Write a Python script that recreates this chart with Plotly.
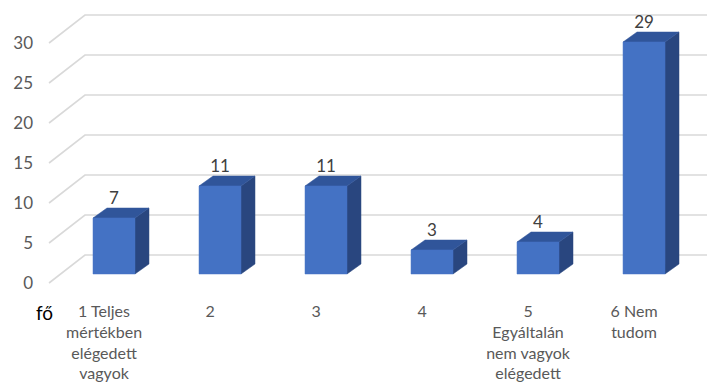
import plotly.graph_objects as go

categories = ["1 Teljes<br>mértékben<br>elégedett<br>vagyok", "2", "3", "4",
              "5<br>Egyáltalán<br>nem vagyok<br>elégedett", "6 Nem<br>tudom"]
values = [7, 11, 11, 3, 4, 29]
y_ticks = [0, 5, 10, 15, 20, 25, 30]

# pseudo-3D geometry (in axis units)
half_w = 0.198
dx, dy = 0.132, 1.25          # bar depth offset
front_off = -1.125            # front floor edge relative to bar base
back_off = 2.375              # back wall relative to bar base
wall_left_front, wall_left_back = -0.613, -0.274
x_min, x_max = -0.6981, 5.745
label_shift = -0.094

front_col = "#4472C4"
top_col = "#30559A"
side_col = "#29467F"
grid_col = "#D9D9D9"

fig = go.Figure()

# gridlines: back wall + left diagonal
for t in y_ticks:
    fig.add_trace(go.Scatter(
        x=[wall_left_front, wall_left_back, x_max + 1],
        y=[t + front_off, t + back_off, t + back_off],
        mode="lines", line=dict(color=grid_col, width=1.6),
        hoverinfo="skip", showlegend=False))

xs = list(range(len(values)))
for i, v in zip(xs, values):
    xr = i + half_w
    xl = i - half_w
    # side face
    fig.add_trace(go.Scatter(
        x=[xr, xr + dx, xr + dx, xr, xr], y=[0, dy, v + dy, v, 0],
        fill="toself", fillcolor=side_col, mode="lines",
        line=dict(color=side_col, width=0.5), hoverinfo="skip", showlegend=False))
    # top face
    fig.add_trace(go.Scatter(
        x=[xl, xl + dx, xr + dx, xr, xl], y=[v, v + dy, v + dy, v, v],
        fill="toself", fillcolor=top_col, mode="lines",
        line=dict(color=top_col, width=0.5), hoverinfo="skip", showlegend=False))
    # front face
    fig.add_trace(go.Scatter(
        x=[xl, xr, xr, xl, xl], y=[0, 0, v, v, 0],
        fill="toself", fillcolor=front_col, mode="lines",
        line=dict(color=front_col, width=0.5), hoverinfo="skip", showlegend=False))

# data labels
fig.add_trace(go.Scatter(
    x=xs, y=[v + dy for v in values], mode="text", text=[str(v) for v in values],
    textposition="top center", textfont=dict(family="Lato", size=17, color="#404040"),
    hoverinfo="skip", showlegend=False))

fig.update_layout(
    width=715, height=392,
    margin=dict(l=32, r=0, t=0, b=104),
    paper_bgcolor="white", plot_bgcolor="white",
    font=dict(family="Lato", size=15, color="#595959"),
    xaxis=dict(range=[x_min, x_max], showgrid=False, zeroline=False, showline=False,
               tickmode="array", tickvals=[i + label_shift for i in xs], ticktext=categories,
               ticks="", ticklabelstandoff=4,
               tickfont=dict(family="Lato", size=16, color="#595959")),
    yaxis=dict(range=[-2.75, 33.25], showgrid=False, zeroline=False, showline=False,
               tickmode="array", tickvals=[t + front_off for t in y_ticks],
               ticktext=[str(t) for t in y_ticks], ticks="", ticklabelstandoff=6,
               tickfont=dict(family="Lato", size=17, color="#595959")),
    annotations=[dict(text="fő", xref="paper", yref="paper", x=0.022, y=0, xanchor="right",
                      yanchor="middle", yshift=-16, showarrow=False,
                      font=dict(family="Lato", size=19, color="#000000"))],
)

fig.write_html("out.html")
